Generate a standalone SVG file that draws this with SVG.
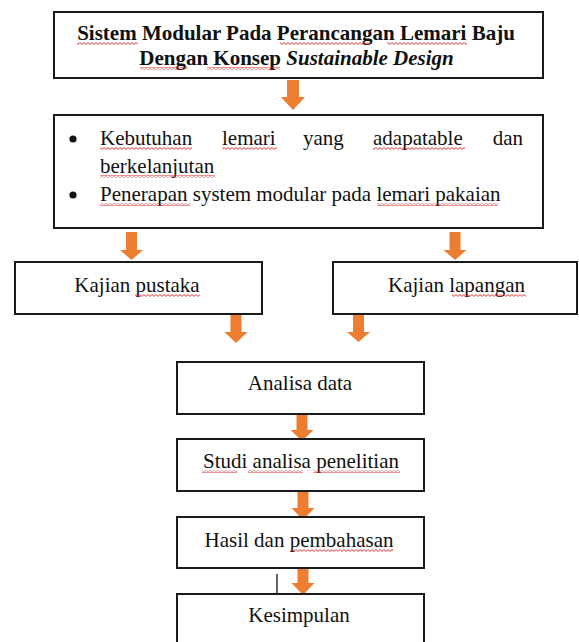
<svg xmlns="http://www.w3.org/2000/svg" width="579" height="642" viewBox="0 0 579 642">
<style>
.box{fill:#fff;stroke:#1a1a1a;stroke-width:2}
.t{font-family:"Liberation Serif","Times New Roman",serif;font-size:21px;fill:#111}
.b{font-weight:bold}
.c{text-anchor:middle}
.arr{fill:#ED7D31}
.sq{fill:url(#wave)}
</style>
<defs>
<pattern id="wave" patternUnits="userSpaceOnUse" width="4" height="3">
<path d="M0 0.6 L2 2.4 L4 0.6" fill="none" stroke="#e0201e" stroke-width="0.9"/>
</pattern>
</defs>
<rect width="579" height="642" fill="#fff"/>

<g id="connectors">
<path class="arr" d="M287 80 H299 V97 H305 L293 110 L281 97 H287 Z"/>
<path class="arr" d="M126 232 H137 V250 H143 L131.5 260 L120 250 H126 Z"/>
<path class="arr" d="M449.5 232 H460.5 V250 H466.5 L455 260 L443.5 250 H449.5 Z"/>
<path class="arr" d="M230.5 314 H241.5 V332 H247.5 L236 343 L224.5 332 H230.5 Z"/>
<path class="arr" d="M353 314 H364 V332 H370 L358.5 342 L347 332 H353 Z"/>
<path class="arr" d="M296.5 414 H307.5 V430 H313.5 L302 441 L290.5 430 H296.5 Z"/>
<path class="arr" d="M297.5 492 H308.5 V508 H314.5 L303 520 L291.5 508 H297.5 Z"/>
<path class="arr" d="M297.5 568 H308.5 V583 H314.5 L303 595 L291.5 583 H297.5 Z"/>
<line x1="277" y1="574" x2="277" y2="612" stroke="#111" stroke-width="1.3"/>
</g>

<g id="title">
<rect class="box" x="54" y="12" width="489" height="66" stroke-width="2.5"/>
<text class="t b c" x="296" y="40">Sistem Modular Pada Perancangan Lemari Baju</text>
<text class="t b c" x="296.5" y="65">Dengan Konsep <tspan font-style="italic">Sustainable Design</tspan></text>
<rect class="sq" x="77" y="42" width="61" height="3"/>
<rect class="sq" x="280" y="42" width="90" height="3"/>
<rect class="sq" x="387" y="42" width="80" height="3"/>
<rect class="sq" x="140" y="67" width="48" height="3"/>
<rect class="sq" x="207" y="67" width="73" height="3"/>
</g>

<g id="problem">
<rect class="box" x="54" y="115" width="489" height="113" stroke-width="2.5"/>
<circle cx="73" cy="139" r="3.6" fill="#111"/>
<circle cx="73" cy="195" r="3.6" fill="#111"/>
<text class="t" x="100" y="145">Kebutuhan</text>
<text class="t" x="222" y="145">lemari</text>
<text class="t" x="303" y="145">yang</text>
<text class="t" x="373" y="145">adapatable</text>
<text class="t" x="523" y="145" text-anchor="end">dan</text>
<text class="t" x="100" y="173">berkelanjutan</text>
<text class="t" x="100" y="201">Penerapan system modular pada lemari pakaian</text>
<rect class="sq" x="100" y="147" width="92" height="3"/>
<rect class="sq" x="222" y="147" width="55" height="3"/>
<rect class="sq" x="373" y="147" width="92" height="3"/>
<rect class="sq" x="100" y="175" width="115" height="3"/>
<rect class="sq" x="100" y="203" width="90" height="3"/>
<rect class="sq" x="377" y="203" width="121" height="3"/>
</g>

<g id="kajian-pustaka">
<rect class="box" x="15" y="262" width="247" height="52"/>
<text class="t c" x="137" y="292">Kajian pustaka</text>
<rect class="sq" x="135" y="294" width="65" height="3"/>
</g>

<g id="kajian-lapangan">
<rect class="box" x="333" y="262" width="244" height="52"/>
<text class="t c" x="456.5" y="292">Kajian lapangan</text>
<rect class="sq" x="452" y="294" width="74" height="3"/>
</g>

<g id="analisa-data">
<rect class="box" x="177" y="362" width="247" height="52"/>
<text class="t c" x="300" y="390">Analisa data</text>
</g>

<g id="studi">
<rect class="box" x="177" y="439" width="247" height="52"/>
<text class="t c" x="301" y="468">Studi analisa penelitian</text>
<rect class="sq" x="202" y="470" width="35" height="3"/>
<rect class="sq" x="248" y="470" width="55" height="3"/>
<rect class="sq" x="313" y="470" width="87" height="3"/>
</g>

<g id="hasil">
<rect class="box" x="177" y="517" width="247" height="51"/>
<text class="t c" x="299" y="547">Hasil dan pembahasan</text>
<rect class="sq" x="290" y="549" width="103" height="3"/>
</g>

<g id="kesimpulan">
<rect class="box" x="177" y="594" width="247" height="60"/>
<text class="t c" x="299" y="622">Kesimpulan</text>
</g>
</svg>
